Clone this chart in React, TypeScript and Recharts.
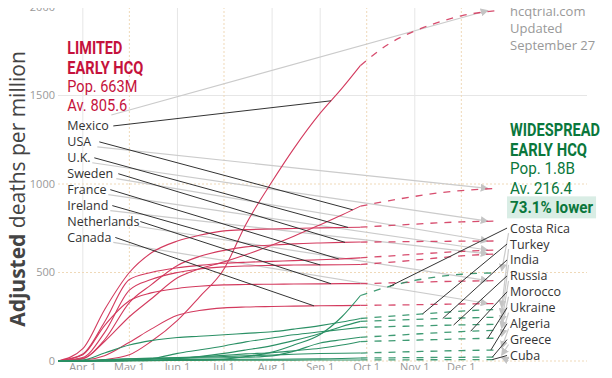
import React from 'react';
import {
  LineChart, Line, XAxis, YAxis, CartesianGrid, ReferenceLine, ReferenceDot,
} from 'recharts';

// x values are day of year 2020 (Jan 1 = 0)
const days = [75, 91, 105, 121, 135, 152, 166, 182, 196, 213, 227, 244, 258, 270];
const projDays = [270, 288, 305, 319, 335, 358];
const monthTicks = [91, 121, 152, 182, 213, 244, 274, 305, 335];
const monthLabels = ['Apr 1', 'May 1', 'Jun 1', 'Jul 1', 'Aug 1', 'Sep 1', 'Oct 1', 'Nov 1', 'Dec 1'];
const yTicks = [0, 500, 1000, 1500, 2000];

const limitedNames = ['Mexico', 'USA', 'U.K.', 'Sweden', 'France', 'Ireland', 'Netherlands', 'Canada'];
const limitedActual = [
  [0, 1, 8, 35, 110, 230, 360, 520, 770, 1014, 1200, 1400, 1540, 1670],
  [0, 12, 110, 250, 350, 470, 520, 560, 600, 655, 705, 770, 825, 875],
  [0, 70, 290, 500, 610, 678, 710, 735, 742, 746, 749, 752, 754, 756],
  [0, 15, 120, 330, 430, 540, 590, 625, 645, 655, 662, 667, 670, 672],
  [0, 40, 220, 460, 500, 527, 540, 552, 558, 563, 567, 572, 577, 583],
  [0, 20, 160, 400, 460, 500, 520, 532, 537, 540, 542, 543, 544, 545],
  [0, 35, 200, 340, 385, 410, 422, 430, 432, 434, 435, 436, 437, 437],
  [0, 4, 30, 106, 180, 258, 285, 300, 305, 308, 310, 312, 313, 314],
];
const limitedProjected = [
  [1670, 1790, 1865, 1910, 1950, 1980],
  [875, 905, 930, 948, 963, 975],
  [756, 765, 773, 780, 786, 790],
  [672, 673, 675, 676, 677, 678],
  [583, 593, 603, 611, 619, 627],
  [545, 557, 570, 582, 594, 605],
  [437, 441, 445, 448, 451, 454],
  [314, 316, 318, 320, 322, 325],
];

const widespreadNames = ['Costa Rica', 'Turkey', 'India', 'Russia', 'Morocco', 'Ukraine', 'Algeria', 'Greece', 'Cuba'];
const widespreadActual = [
  [0, 0, 1, 2, 2, 3, 4, 10, 25, 50, 90, 150, 250, 370],
  [0, 5, 45, 90, 115, 133, 140, 148, 156, 165, 180, 200, 220, 240],
  [0, 0, 0, 1, 3, 13, 25, 43, 62, 87, 115, 155, 195, 224],
  [0, 0, 0, 2, 12, 43, 62, 85, 108, 130, 148, 165, 178, 190],
  [0, 1, 5, 12, 14, 16, 17, 18, 21, 29, 55, 102, 120, 134],
  [0, 0, 1, 6, 12, 19, 24, 32, 40, 47, 58, 72, 90, 110],
  [0, 1, 8, 13, 16, 18, 22, 25, 30, 34, 38, 42, 44, 45],
  [0, 1, 4, 6, 7, 8, 8, 9, 10, 10, 11, 12, 14, 17],
  [0, 0, 1, 3, 4, 5, 5, 5, 5, 5, 5, 6, 6, 6],
];
const widespreadProjected = [
  [370, 420, 455, 475, 490, 498],
  [240, 252, 263, 272, 282, 291],
  [224, 230, 235, 239, 243, 247],
  [190, 194, 198, 201, 204, 207],
  [134, 143, 152, 159, 166, 174],
  [110, 114, 118, 121, 125, 129],
  [45, 49, 53, 56, 59, 62],
  [17, 18, 19, 20, 21, 22],
  [6, 6, 7, 7, 8, 8],
];

const limitedHeader = ['LIMITED', 'EARLY HCQ'];
const limitedStats = ['Pop. 663M', 'Av. 805.6'];
const widespreadHeader = ['WIDESPREAD', 'EARLY HCQ'];
const widespreadStats = ['Pop. 1.8B', 'Av. 216.4'];
const widespreadDiff = '73.1% lower';
const sourceLines = ['hcqtrial.com', 'Updated', 'September 27'];

// where each leader touches its line (day)
const limitedLeaderDays = [251, 265, 262, 260, 256, 244, 251, 240];
const widespreadLeaderDays = [289, 310, 323, 330, 341, 352, 354, 355, 355];

const RED = '#d33a5e';
const GREEN = '#2b9065';
const RED_TEXT = '#c5123c';
const GREEN_TEXT = '#0a773c';

// annotation layout (data units; 1px ~ 0.645 day, 1px ~ 5.6 units)
const PXD = 0.6446;
const PXV = 5.6;
const leftX = 81;
const rightX = 366.4;
const limitedLabelWidths = [41, 27, 22, 46, 38, 40, 68, 43];

const interp = (xs: number[], ys: number[], x: number) => {
  for (let i = 1; i < xs.length; i++) {
    if (x <= xs[i]) {
      const t = (x - xs[i - 1]) / (xs[i] - xs[i - 1]);
      return ys[i - 1] + t * (ys[i] - ys[i - 1]);
    }
  }
  return ys[ys.length - 1];
};

const allDays = Array.from(new Set([...days, ...projDays])).sort((a, b) => a - b);
const rows = allDays.map(d => {
  const r: Record<string, number> = { day: d };
  const ai = days.indexOf(d);
  const pi = projDays.indexOf(d);
  limitedNames.forEach((_, i) => {
    if (ai >= 0) r[`L${i}a`] = limitedActual[i][ai];
    if (pi >= 0) r[`L${i}p`] = limitedProjected[i][pi];
  });
  widespreadNames.forEach((_, i) => {
    if (ai >= 0) r[`W${i}a`] = widespreadActual[i][ai];
    if (pi >= 0) r[`W${i}p`] = widespreadProjected[i][pi];
  });
  return r;
});

// measure natural text width so condensed labels can be squeezed with a transform
let measureCtx: CanvasRenderingContext2D | null = null;
function measure(label: string, font: string) {
  if (!measureCtx) measureCtx = document.createElement('canvas').getContext('2d');
  if (!measureCtx) return 0;
  measureCtx.font = font;
  return measureCtx.measureText(label).width;
}

type TextOpts = {
  fill?: string; size?: number; weight?: number; family?: string;
  width?: number; bg?: string;
};

function textAt(key: string, x: number, y: number, label: string, o: TextOpts = {}) {
  const size = o.size || 12.5;
  const weight = o.weight || 400;
  const family = o.family || "'Open Sans', sans-serif";
  return (
    <ReferenceDot
      key={key}
      x={x}
      y={y}
      r={0}
      ifOverflow="visible"
      shape={(p: any) => {
        let sx = 1;
        if (o.width) {
          const nat = measure(label, `${weight} ${size}px ${family}`);
          if (nat > 0) sx = o.width / nat;
        }
        return (
          <g>
            {o.bg && <rect x={p.cx - 3} y={p.cy - 11} width={(o.width || 80) + 6} height={22} fill={o.bg} />}
            <text
              transform={`translate(${p.cx},${p.cy}) scale(${sx},1)`}
              x={0}
              y={0}
              dominantBaseline="central"
              fill={o.fill || '#333'}
              fontSize={size}
              fontWeight={weight}
              fontFamily={family}
            >
              {label}
            </text>
          </g>
        );
      }}
    />
  );
}

function segment(key: string, x1: number, y1: number, x2: number, y2: number, kind: 'black' | 'gray') {
  return (
    <ReferenceLine
      key={key}
      segment={[{ x: x1, y: y1 }, { x: x2, y: y2 }]}
      ifOverflow="visible"
      shape={(p: any) => (
        <line
          x1={p.x1} y1={p.y1} x2={p.x2} y2={p.y2}
          stroke={kind === 'black' ? '#333' : '#cbcbcb'}
          strokeWidth={kind === 'black' ? 1 : 1.2}
          markerEnd={kind === 'gray' ? 'url(#grayArrow)' : undefined}
        />
      )}
    />
  );
}

const condensed = "Roboto, sans-serif";

export default function App() {
  const limitedY = limitedNames.map((_, i) => 1328 - i * 90);
  const widespreadY = widespreadNames.map((_, i) => 751 - i * 90);

  return (
    <div style={{ width: 612, height: 378, margin: -8, background: '#fff' }}>
      <LineChart width={612} height={378} data={rows} margin={{ top: 7, right: 25, bottom: 0, left: 0 }}>
        <defs>
          <marker id="grayArrow" markerWidth={8} markerHeight={8} refX={7} refY={4} orient="auto" markerUnits="userSpaceOnUse">
            <path d="M0,0 L8,4 L0,8 z" fill="#c4c4c4" />
          </marker>
        </defs>
        <CartesianGrid
          stroke="#e6e6e6"
          horizontalValues={[1500, 2000]}
          verticalValues={[91, 152, 213, 244, 305]}
        />
        <CartesianGrid
          stroke="#efd9b8"
          strokeDasharray="2 2"
          horizontalValues={[0, 500, 1000]}
          verticalValues={[121, 182, 274, 335]}
        />
        <XAxis
          dataKey="day"
          type="number"
          domain={[75, 416]}
          allowDataOverflow
          ticks={monthTicks}
          tickFormatter={v => monthLabels[monthTicks.indexOf(v)] ?? ''}
          axisLine={false}
          tickLine={false}
          tickSize={0}
          tickMargin={2}
          height={17}
          tick={{ fill: '#999', fontSize: 11, fontFamily: "'Open Sans', sans-serif" }}
        />
        <YAxis
          type="number"
          domain={[0, 2000]}
          ticks={yTicks}
          axisLine={false}
          tickLine={false}
          tickSize={0}
          tickMargin={3}
          width={58}
          tick={{ fill: '#999', fontSize: 11, fontFamily: "'Open Sans', sans-serif" }}
          label={{
            content: () => (
              <text
                transform="translate(25,189) rotate(-90)"
                textAnchor="middle"
                fontFamily="'Open Sans', sans-serif"
                fontSize={21}
                fill="#444"
              >
                <tspan fontWeight={700}>Adjusted</tspan> deaths per million
              </text>
            ),
          }}
        />

        {/* gray arrows from labels to projected ends */}
        {limitedNames.map((_, i) => segment(
          `lg${i}`,
          leftX + (limitedLabelWidths[i] + 3) * PXD,
          limitedY[i] + (i === 0 ? 11 : -5) * PXV,
          projDays[projDays.length - 1] - 6,
          limitedProjected[i][limitedProjected[i].length - 1],
          'gray',
        ))}
        {widespreadNames.map((_, i) => segment(
          `wg${i}`,
          rightX - 1.5 * PXD,
          widespreadY[i] - 5 * PXV,
          projDays[projDays.length - 1] + 3,
          widespreadProjected[i][widespreadProjected[i].length - 1] + 2 * PXV,
          'gray',
        ))}

        {limitedNames.map((n, i) => (
          <Line key={`La${i}`} name={n} dataKey={`L${i}a`} type="monotone" stroke={RED} strokeWidth={1.1}
            dot={false} connectNulls isAnimationActive={false} />
        ))}
        {limitedNames.map((n, i) => (
          <Line key={`Lp${i}`} name={`${n} projected`} dataKey={`L${i}p`} type="monotone" stroke={RED}
            strokeWidth={1.3} strokeDasharray="7 7" strokeOpacity={0.9} dot={false} connectNulls isAnimationActive={false} />
        ))}
        {widespreadNames.map((n, i) => (
          <Line key={`Wa${i}`} name={n} dataKey={`W${i}a`} type="monotone" stroke={GREEN} strokeWidth={1.1}
            dot={false} connectNulls isAnimationActive={false} />
        ))}
        {widespreadNames.map((n, i) => (
          <Line key={`Wp${i}`} name={`${n} projected`} dataKey={`W${i}p`} type="monotone" stroke={GREEN}
            strokeWidth={1.3} strokeDasharray="7 7" strokeOpacity={0.9} dot={false} connectNulls isAnimationActive={false} />
        ))}

        {/* black leaders */}
        {limitedNames.map((_, i) => segment(
          `lb${i}`,
          leftX + (limitedLabelWidths[i] + 5) * PXD,
          limitedY[i],
          limitedLeaderDays[i],
          interp(days, limitedActual[i], limitedLeaderDays[i]),
          'black',
        ))}
        {widespreadNames.map((_, i) => segment(
          `wb${i}`,
          rightX - 3 * PXD,
          widespreadY[i],
          widespreadLeaderDays[i],
          interp(projDays, widespreadProjected[i], widespreadLeaderDays[i]),
          'black',
        ))}

        {/* labels */}
        {limitedNames.map((n, i) => textAt(`lt${i}`, leftX, limitedY[i], n))}
        {widespreadNames.map((n, i) => textAt(`wt${i}`, rightX, widespreadY[i], n))}

        {textAt('lh0', leftX, 1770, limitedHeader[0], { fill: RED_TEXT, size: 18, weight: 700, family: condensed, width: 55 })}
        {textAt('lh1', leftX, 1658, limitedHeader[1], { fill: RED_TEXT, size: 18, weight: 700, family: condensed, width: 76 })}
        {textAt('ls0', leftX, 1552, limitedStats[0], { fill: RED_TEXT, size: 17, family: condensed, width: 70 })}
        {textAt('ls1', leftX, 1445, limitedStats[1], { fill: RED_TEXT, size: 17, family: condensed, width: 60 })}

        {textAt('wh0', rightX, 1305, widespreadHeader[0], { fill: GREEN_TEXT, size: 18, weight: 700, family: condensed, width: 90 })}
        {textAt('wh1', rightX, 1193, widespreadHeader[1], { fill: GREEN_TEXT, size: 18, weight: 700, family: condensed, width: 77 })}
        {textAt('ws0', rightX, 1087, widespreadStats[0], { fill: GREEN_TEXT, size: 17, family: condensed, width: 65 })}
        {textAt('ws1', rightX, 975, widespreadStats[1], { fill: GREEN_TEXT, size: 17, family: condensed, width: 62 })}
        {textAt('wd', rightX, 868, widespreadDiff, { fill: GREEN_TEXT, size: 17, weight: 700, family: condensed, width: 83, bg: '#d9ede5' })}

        {sourceLines.map((s, i) => textAt(`src${i}`, rightX, 1978 - i * 95, s, { fill: '#999', size: 13 }))}
      </LineChart>
    </div>
  );
}
